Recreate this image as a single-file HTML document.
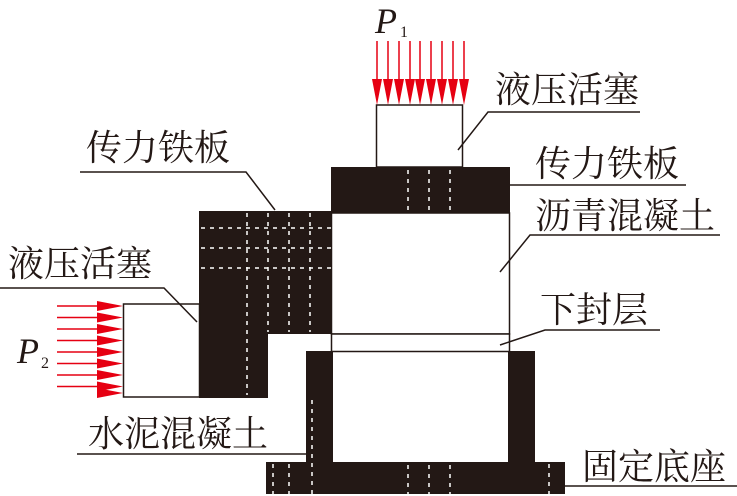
<!DOCTYPE html>
<html><head><meta charset="utf-8"><style>
html,body{margin:0;padding:0;background:#fff}
svg{display:block}
text{font-family:"Liberation Serif","Noto Serif CJK SC",serif;fill:#231815}
</style></head><body>
<svg width="737" height="496" viewBox="0 0 737 496" xmlns="http://www.w3.org/2000/svg">
<g fill="#231815">
<rect x="331" y="167" width="179" height="46"/>
<path d="M199,211 H331 V334 H268 V398 H199 Z"/>
<path d="M306,351 H535 V462 H565 V494 H266 V462 H306 Z"/>
</g>
<rect x="333" y="352" width="175" height="110" fill="#fff"/>
<rect x="331.5" y="213" width="178" height="121" fill="#fff" stroke="#231815" stroke-width="1.5"/>
<rect x="331.5" y="334" width="178" height="17.5" fill="#fff" stroke="#231815" stroke-width="1.5"/>
<rect x="376.5" y="105" width="86" height="62" fill="#fff" stroke="#231815" stroke-width="1.5"/>
<rect x="123.5" y="304" width="76" height="93" fill="#fff" stroke="#231815" stroke-width="1.5"/>
<g stroke="#fff" stroke-width="1.5" stroke-dasharray="4,5" fill="none">
<path d="M408,170V212 M429,170V212 M450,170V212"/>
<path d="M408,465V494 M429,465V494 M450,465V494"/>
<path d="M247,213V395 M268,213V332 M289,213V332 M310,213V332"/>
<path d="M201,228H331 M201,248H331 M201,268H331"/>
<path d="M312,400V494 M289,464V494 M273,464V494 M549,464V494"/>
</g>
<g stroke="#e60012" stroke-width="1.5">
<path d="M377,41V80 M388,41V80 M399,41V80 M410,41V80 M420,41V80 M431,41V80 M442,41V80 M453,41V80 M464,41V80"/>
<path d="M57,306H98 M57,317.5H98 M57,329H98 M57,340.5H98 M57,352H98 M57,363.5H98 M57,375H98 M57,386.5H98"/>
</g>
<g fill="#e60012">
<path d="M372,79h10l-5,26z M383,79h10l-5,26z M394,79h10l-5,26z M405,79h10l-5,26z M415,79h10l-5,26z M426,79h10l-5,26z M437,79h10l-5,26z M448,79h10l-5,26z M459,79h10l-5,26z"/>
<path d="M97,301v10l26,-5z M97,312.5v10l26,-5z M97,324v10l26,-5z M97,335.5v10l26,-5z M97,347v10l26,-5z M97,358.5v10l26,-5z M97,370v10l26,-5z M97,381.5v10l26,-5z M97,388v10l26,-5z"/>
</g>
<g stroke="#231815" stroke-width="1.5" fill="none">
<path d="M640,112H488L458,150"/>
<path d="M80,172H246L275,210"/>
<path d="M510,185H686"/>
<path d="M720,235H530L500,272"/>
<path d="M0,288H164L197,322"/>
<path d="M660,330H545L500,345"/>
<path d="M77,454H306"/>
<path d="M565,486H737"/>
</g>
<g font-size="36">
<text x="495" y="102">液压活塞</text>
<text x="86" y="160">传力铁板</text>
<text x="535" y="176">传力铁板</text>
<text x="535" y="228">沥青混凝土</text>
<text x="8" y="276">液压活塞</text>
<text x="540" y="322">下封层</text>
<text x="88" y="446">水泥混凝土</text>
<text x="582" y="479">固定底座</text>
</g>
<text x="375" y="33" font-size="36" font-style="italic">P</text>
<text x="400" y="37" font-size="16">1</text>
<text x="17" y="363" font-size="36" font-style="italic">P</text>
<text x="41" y="368" font-size="16">2</text>
</svg>
</body></html>
